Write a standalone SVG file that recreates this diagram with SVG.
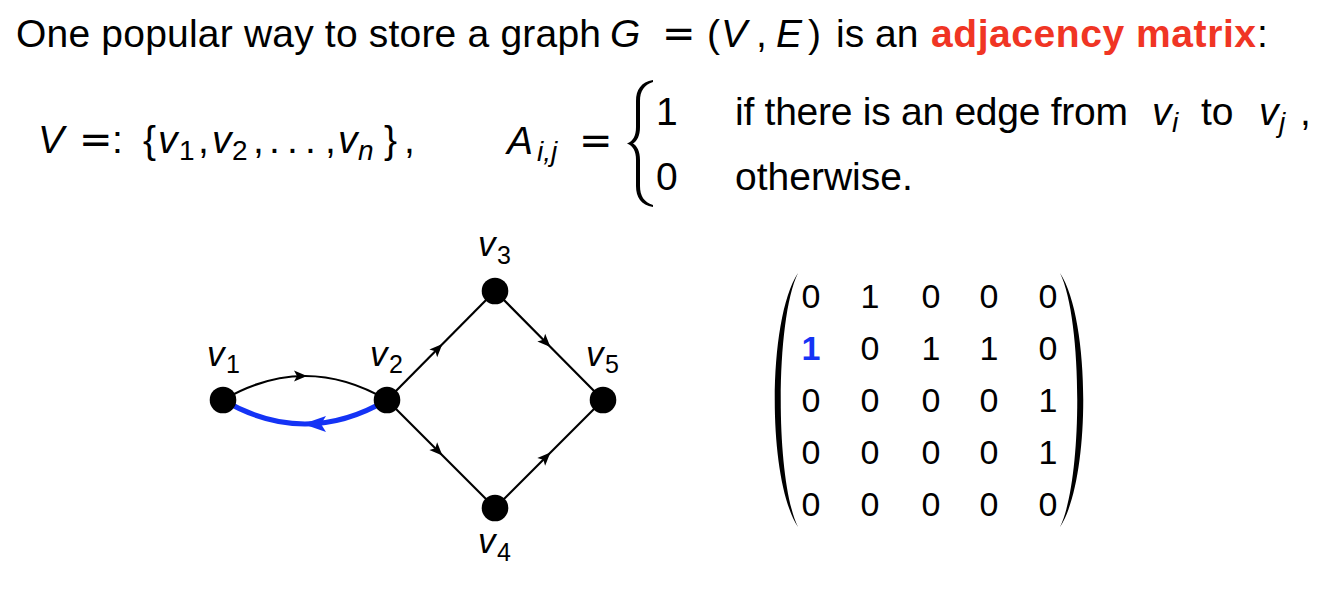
<svg xmlns="http://www.w3.org/2000/svg" width="1334" height="601" viewBox="0 0 1334 601">
<style>
text{font-family:"Liberation Sans",Arial,sans-serif;fill:#000}
.t{font-size:39px}
.it{font-style:italic}
.eq{font-family:"DejaVu Sans",sans-serif;font-size:40px}
.sub{font-size:28px}
.red{fill:#f03524;font-weight:bold}
.lbl{font-size:35px;font-style:italic}
.lsub{font-size:25px}
.m{font-size:34px;text-anchor:middle}
.edge{fill:none;stroke:#000;stroke-width:2.2}
.blue{fill:none;stroke:#1433f5;stroke-width:5}
.node{fill:#000}
.delim{fill:#000}
</style>
<defs>
<marker id="arr" markerUnits="userSpaceOnUse" viewBox="-14 -8 18 16" markerWidth="18" markerHeight="16" refX="0" refY="0" orient="auto">
<path d="M2,0 L-11,-5.5 L-8,0 L-11,5.5 Z" fill="#000"/>
</marker>
<marker id="arrb" markerUnits="userSpaceOnUse" viewBox="-26 -11 30 22" markerWidth="30" markerHeight="22" refX="0" refY="0" orient="auto">
<path d="M2,0 L-21,-8 L-16,0 L-21,8 Z" fill="#1433f5"/>
</marker>
</defs>

<g id="title">
<text class="t" x="16" y="47" textLength="585">One popular way to store a graph</text>
<text class="t it" x="610" y="47">G</text>
<text class="eq" x="662" y="47">=</text>
<text class="t" x="707" y="47">(</text>
<text class="t it" x="721" y="47">V</text>
<text class="t" x="756" y="47">,</text>
<text class="t it" x="776" y="47">E</text>
<text class="t" x="808" y="47">)</text>
<text class="t" x="836" y="47">is an</text>
<text class="t red" x="931" y="47" textLength="325">adjacency matrix</text>
<text class="t" x="1257" y="47">:</text>
</g>

<g id="vertex-set">
<text class="t it" x="38" y="153">V</text>
<text class="eq" x="79" y="153">=</text>
<text class="t" x="112" y="153">:</text>
<text class="t" x="143" y="153">{</text>
<text class="t it" x="158" y="153">v</text>
<text class="sub" x="179" y="160">1</text>
<text class="t" x="198" y="153">,</text>
<text class="t it" x="212" y="153">v</text>
<text class="sub" x="232" y="160">2</text>
<text class="t" x="253" y="153">,</text>
<text class="t" x="269" y="153">.</text>
<text class="t" x="287" y="153">.</text>
<text class="t" x="305" y="153">.</text>
<text class="t" x="325" y="153">,</text>
<text class="t it" x="338" y="153">v</text>
<text class="sub it" x="358" y="160">n</text>
<text class="t" x="384" y="153">}</text>
<text class="t" x="404" y="153">,</text>
</g>

<g id="definition">
<text class="t it" x="507" y="154">A</text>
<text class="sub it" x="537" y="161">i,j</text>
<text class="eq" x="579" y="154">=</text>
<path class="delim" d="M653,80 C641,82 636,90 636,101 L636,127 C636,136 633,141 627,143.5 C633,146 636,151 636,160 L636,186 C636,197 641,205 653,207 L653,205 C644,202 640,196 640,186 L640,160 C640,151 637,146 633,143.5 C637,141 640,136 640,127 L640,101 C640,91 644,85 653,82 Z"/>
<text class="t" x="656" y="125">1</text>
<text class="t" x="656" y="190">0</text>
<text class="t" x="735" y="125" textLength="393">if there is an edge from</text>
<text class="t it" x="1152" y="125">v</text>
<text class="sub it" x="1172" y="132">i</text>
<text class="t" x="1201" y="125">to</text>
<text class="t it" x="1259" y="125">v</text>
<text class="sub it" x="1279" y="132">j</text>
<text class="t" x="1300" y="125">,</text>
<text class="t" x="735" y="190">otherwise.</text>
</g>

<g id="connectors">
<path class="edge" d="M223,400 Q264,376 305,376 Q346,376 387,400" marker-mid="url(#arr)"/>
<path class="blue" d="M387,400 Q346,424 305,424 Q264,424 223,400" marker-mid="url(#arrb)"/>
<path class="edge" d="M387,400 L441,345.5 L495,291" marker-mid="url(#arr)"/>
<path class="edge" d="M387,400 L441,454 L495,508" marker-mid="url(#arr)"/>
<path class="edge" d="M495,291 L549,345.5 L603,400" marker-mid="url(#arr)"/>
<path class="edge" d="M495,508 L549,454 L603,400" marker-mid="url(#arr)"/>
</g>

<g id="v1"><circle class="node" cx="223" cy="400" r="13.3"/><text class="lbl" x="207" y="366">v</text><text class="lsub" x="226" y="373">1</text></g>
<g id="v2"><circle class="node" cx="387" cy="400" r="13.3"/><text class="lbl" x="370" y="366">v</text><text class="lsub" x="389" y="373">2</text></g>
<g id="v3"><circle class="node" cx="495" cy="291" r="13.3"/><text class="lbl" x="478" y="256">v</text><text class="lsub" x="497" y="264">3</text></g>
<g id="v4"><circle class="node" cx="495" cy="508" r="13.3"/><text class="lbl" x="478" y="553">v</text><text class="lsub" x="497" y="561">4</text></g>
<g id="v5"><circle class="node" cx="603" cy="400" r="13.3"/><text class="lbl" x="586" y="366">v</text><text class="lsub" x="605" y="373">5</text></g>

<g id="matrix">
<path class="delim" d="M798,273 C767,320 767,480 798,527 C775,480 775,320 798,273 Z"/>
<path class="delim" d="M1060,273 C1091,320 1091,480 1060,527 C1083,480 1083,320 1060,273 Z"/>
<text class="m" x="811" y="308">0</text><text class="m" x="870" y="308">1</text><text class="m" x="931" y="308">0</text><text class="m" x="989" y="308">0</text><text class="m" x="1048" y="308">0</text>
<text class="m" x="811" y="360" style="fill:#1433f5;font-weight:bold">1</text><text class="m" x="870" y="360">0</text><text class="m" x="931" y="360">1</text><text class="m" x="989" y="360">1</text><text class="m" x="1048" y="360">0</text>
<text class="m" x="811" y="412">0</text><text class="m" x="870" y="412">0</text><text class="m" x="931" y="412">0</text><text class="m" x="989" y="412">0</text><text class="m" x="1048" y="412">1</text>
<text class="m" x="811" y="464">0</text><text class="m" x="870" y="464">0</text><text class="m" x="931" y="464">0</text><text class="m" x="989" y="464">0</text><text class="m" x="1048" y="464">1</text>
<text class="m" x="811" y="516">0</text><text class="m" x="870" y="516">0</text><text class="m" x="931" y="516">0</text><text class="m" x="989" y="516">0</text><text class="m" x="1048" y="516">0</text>
</g>
</svg>
